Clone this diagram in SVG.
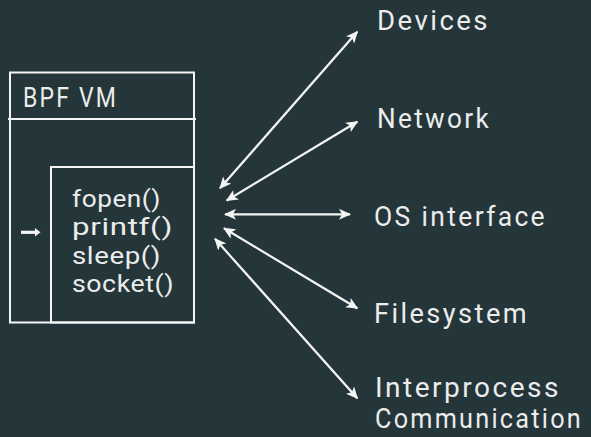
<svg xmlns="http://www.w3.org/2000/svg" width="591" height="437" viewBox="0 0 591 437">
  <style>
    .bg { fill: #24363a; }
    .frame { fill: none; stroke: #f5f5f5; stroke-width: 2; }
    .label { font-family: Roboto, "Liberation Sans", sans-serif; font-size: 28px; letter-spacing: 2.5px; fill: #ececec; }
    .title { font-family: Roboto, "Liberation Sans", sans-serif; font-size: 27px; letter-spacing: 2.5px; fill: #ececec; }
    .code { font-family: Roboto, "Liberation Sans", sans-serif; font-size: 24px; letter-spacing: 0.5px; fill: #ececec; }
    .link { fill: none; stroke: #f5f5f5; stroke-width: 2.2; marker-start: url(#head); marker-end: url(#head); }
  </style>
  <defs>
    <marker id="head" viewBox="0 0 12 11" refX="11" refY="5.5" markerWidth="12" markerHeight="11" markerUnits="userSpaceOnUse" orient="auto-start-reverse">
      <path d="M0,0 L12,5.5 L0,11 L3,5.5 Z" fill="#f5f5f5"/>
    </marker>
  </defs>

  <rect class="bg" x="0" y="0" width="591" height="437"/>

  <!-- virtual machine box -->
  <g id="bpf-vm">
    <rect class="frame" x="10" y="72.5" width="184" height="250"/>
    <line class="frame" x1="8" y1="119" x2="196" y2="119"/>
    <text class="title" x="23" y="106.5" textLength="95" lengthAdjust="spacingAndGlyphs">BPF VM</text>
  </g>

  <!-- helper calls box -->
  <g id="helpers">
    <rect class="frame" x="51" y="167" width="143" height="155.5"/>
    <text class="code" x="72" y="206.5" textLength="89" lengthAdjust="spacingAndGlyphs">fopen()</text>
    <text class="code" x="72" y="235" textLength="101" lengthAdjust="spacingAndGlyphs">printf()</text>
    <text class="code" x="72" y="263.5" textLength="89" lengthAdjust="spacingAndGlyphs">sleep()</text>
    <text class="code" x="72" y="292" textLength="102" lengthAdjust="spacingAndGlyphs">socket()</text>
    <line x1="21" y1="232.3" x2="36" y2="232.3" stroke="#f5f5f5" stroke-width="3.2"/>
    <path d="M35,228 L40.5,232.3 L35,236.6 Z" fill="#f5f5f5"/>
  </g>

  <!-- outside resources -->
  <g id="devices">
    <text class="label" x="377" y="30" textLength="113" lengthAdjust="spacingAndGlyphs">Devices</text>
  </g>
  <g id="network">
    <text class="label" x="377" y="127.5" textLength="114" lengthAdjust="spacingAndGlyphs">Network</text>
  </g>
  <g id="os-interface">
    <text class="label" x="374" y="225.5" textLength="173" lengthAdjust="spacingAndGlyphs">OS interface</text>
  </g>
  <g id="filesystem">
    <text class="label" x="374" y="322.5" textLength="155" lengthAdjust="spacingAndGlyphs">Filesystem</text>
  </g>
  <g id="ipc">
    <text class="label" x="375" y="397" textLength="186" lengthAdjust="spacingAndGlyphs">Interprocess</text>
    <text class="label" x="375" y="428" textLength="208" lengthAdjust="spacingAndGlyphs">Communication</text>
  </g>

  <!-- two-way links between the helpers and the resources -->
  <g id="connectors">
    <line class="link" x1="220" y1="188.3" x2="357.3" y2="31.7"/>
    <line class="link" x1="226.7" y1="200.5" x2="357.3" y2="121.7"/>
    <line class="link" x1="225" y1="214.3" x2="350" y2="214.3"/>
    <line class="link" x1="224" y1="228.3" x2="357.3" y2="308.3"/>
    <line class="link" x1="215" y1="238.8" x2="357.3" y2="398.3"/>
  </g>
</svg>
